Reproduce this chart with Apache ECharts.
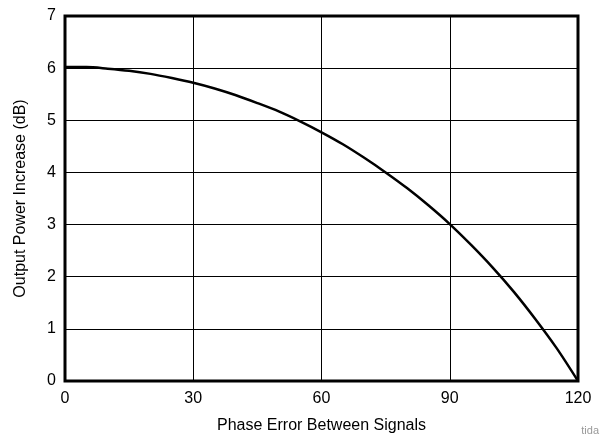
<!DOCTYPE html>
<html><head><meta charset="utf-8">
<script src="https://cdn.jsdelivr.net/npm/echarts@6/dist/echarts.min.js"></script>
<style>html,body{margin:0;padding:0;background:#fff}#c{width:607px;height:439px}</style>
</head><body><div id="c"></div>
<script>
var phaseDeg = [0,5,10,15,20,25,30,35,40,45,50,55,60,65,70,75,80,85,90,95,100,105,110,115,120];
var powerDb = [6.02,6.02,5.99,5.95,5.89,5.81,5.72,5.61,5.48,5.33,5.17,4.98,4.77,4.54,4.28,4.00,3.70,3.37,3.01,2.61,2.18,1.71,1.19,0.63,0.0];
var xTicks = [0,30,60,90,120];
var yTicks = [0,1,2,3,4,5,6,7];
var xTitle = 'Phase Error Between Signals';
var yTitle = 'Output Power Increase (dB)';
var note = 'tida';

var chart = echarts.init(document.getElementById('c'), null, {renderer:'canvas'});
var pts = phaseDeg.map(function(x,i){return [x, powerDb[i]];});
var font = 'Liberation Sans, Arial, sans-serif';
chart.setOption({
  animation:false,
  backgroundColor:'#fff',
  grid:{left:65,right:29,top:16,bottom:58,show:true,borderColor:'#000',borderWidth:3,backgroundColor:'transparent'},
  xAxis:{type:'value',min:xTicks[0],max:xTicks[xTicks.length-1],interval:30,
    name:xTitle,nameLocation:'middle',nameGap:37,
    nameTextStyle:{color:'#000',fontSize:16,fontFamily:font},
    axisLine:{show:false},axisTick:{show:false},
    axisLabel:{color:'#000',fontSize:16,fontFamily:font,margin:10},
    splitLine:{show:true,lineStyle:{color:'#000',width:1}}},
  yAxis:{type:'value',min:yTicks[0],max:yTicks[yTicks.length-1],interval:1,
    name:yTitle,nameLocation:'middle',nameGap:36,
    nameTextStyle:{color:'#000',fontSize:16,fontFamily:font},
    axisLine:{show:false},axisTick:{show:false},
    axisLabel:{color:'#000',fontSize:16,fontFamily:font,margin:9},
    splitLine:{show:true,lineStyle:{color:'#000',width:1}}},
  graphic:[{type:'text',right:8,bottom:3,style:{text:note,fill:'#999',fontSize:11,fontFamily:font}}],
  series:[{type:'line',data:pts,smooth:0.3,symbol:'none',lineStyle:{color:'#000',width:2.5},z:5}]
});
</script></body></html>
